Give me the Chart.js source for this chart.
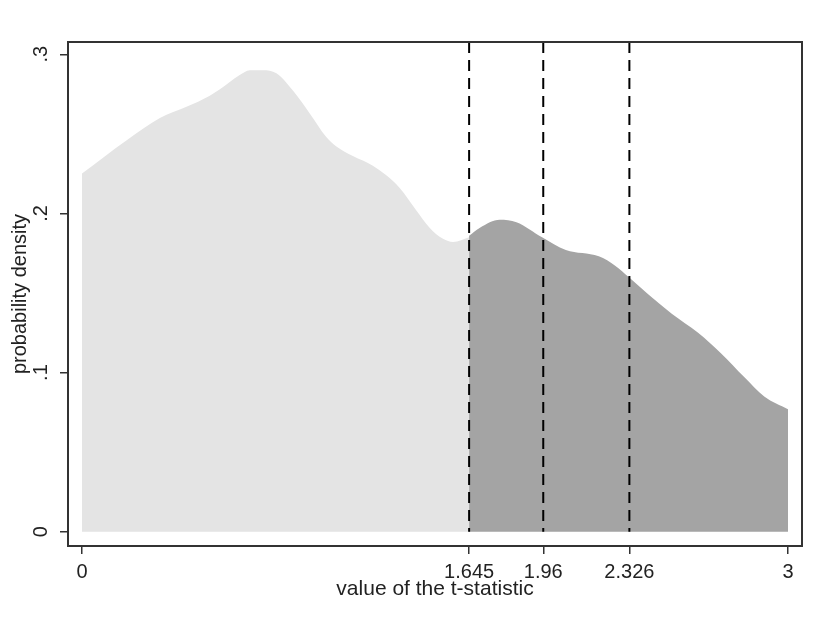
<!DOCTYPE html>
<html>
<head>
<meta charset="utf-8">
<title>t-statistic density</title>
<script src="https://cdn.jsdelivr.net/npm/chart.js@4.4.1/dist/chart.umd.min.js"></script>
<style>
    body { margin: 0; background: #fff; }
    #chart { display: block; }
</style>
</head>
<body>
<canvas id="chart" width="821" height="630"></canvas>
<script>
// density, split at the 1.645 critical value
const leftT = [0, 0.19, 0.331, 0.444, 0.543, 0.586, 0.67, 0.713, 0.77, 0.826, 0.897, 0.967, 1.038, 1.081, 1.151, 1.236, 1.293, 1.35, 1.42, 1.477, 1.534, 1.577, 1.645];
const leftDensity = [0.225, 0.246, 0.260, 0.267, 0.274, 0.278, 0.287, 0.290, 0.290, 0.288, 0.277, 0.263, 0.248, 0.242, 0.236, 0.230, 0.224, 0.216, 0.202, 0.191, 0.184, 0.182, 0.185];

const rightT = [1.645, 1.691, 1.775, 1.846, 1.955, 2.056, 2.196, 2.267, 2.323, 2.407, 2.506, 2.618, 2.716, 2.815, 2.899, 3];
const rightDensity = [0.186, 0.191, 0.196, 0.1945, 0.185, 0.177, 0.173, 0.167, 0.160, 0.149, 0.137, 0.125, 0.112, 0.097, 0.085, 0.077];

const criticalValues = [1.645, 1.96, 2.326];

const xTicks = [0, 1.645, 1.96, 2.326, 3];
const xTickLabels = ["0", "1.645", "1.96", "2.326", "3"];
const yTicks = [0, 0.1, 0.2, 0.3];
const yTickLabels = ["0", ".1", ".2", ".3"];

const xMin = -0.0595, xMax = 3.0595;
const yMin = -0.009, yMax = 0.3077;

const toPoints = (xs, ys) => xs.map((x, i) => ({ x: x, y: ys[i] }));

const areaStyle = {
    fill: "origin",
    borderWidth: 0,
    pointRadius: 0,
    cubicInterpolationMode: "monotone",
    order: 2
};

const datasets = [
    Object.assign({ data: toPoints(leftT, leftDensity), backgroundColor: "#e4e4e4", borderColor: "#e4e4e4" }, areaStyle),
    Object.assign({ data: toPoints(rightT, rightDensity), backgroundColor: "#a4a4a4", borderColor: "#a4a4a4" }, areaStyle)
];

// dashed verticals go on top of the shaded areas
criticalValues.forEach((c) => {
    datasets.push({
        data: [{ x: c, y: yMax }, { x: c, y: 0 }],
        borderColor: "#000",
        borderWidth: 2,
        borderDash: [11, 7],
        pointRadius: 0,
        fill: false,
        order: 0
    });
});

// box round the plot area
const framePlugin = {
    id: "frame",
    afterDraw(chart) {
        const { ctx, chartArea: a } = chart;
        ctx.save();
        ctx.strokeStyle = "#333";
        ctx.lineWidth = 2;
        ctx.strokeRect(a.left, a.top, a.right - a.left, a.bottom - a.top);
        ctx.restore();
    }
};

Chart.defaults.font.family = "'Liberation Sans', Arial, sans-serif";
Chart.defaults.color = "#222";

new Chart(document.getElementById("chart"), {
    type: "line",
    data: { datasets: datasets },
    plugins: [framePlugin],
    options: {
        responsive: false,
        animation: false,
        devicePixelRatio: 1,
        layout: { padding: { top: 42, right: 19, bottom: 0, left: 0 } },
        plugins: {
            legend: { display: false },
            tooltip: { enabled: false }
        },
        scales: {
            x: {
                type: "linear",
                min: xMin,
                max: xMax,
                afterBuildTicks: (scale) => { scale.ticks = xTicks.map((v) => ({ value: v })); },
                afterFit: (scale) => { scale.height = 84; },
                ticks: {
                    autoSkip: false,
                    minRotation: 0,
                    maxRotation: 0,
                    padding: 6,
                    font: { size: 20 },
                    callback: (value, i) => xTickLabels[i]
                },
                grid: { drawOnChartArea: false, drawTicks: true, tickLength: 8, color: "#333", lineWidth: 1.5 },
                border: { display: false },
                title: {
                    display: true,
                    text: "value of the t-statistic",
                    font: { size: 21 },
                    color: "#222",
                    padding: { top: 0, bottom: 28 }
                }
            },
            y: {
                type: "linear",
                min: yMin,
                max: yMax,
                afterBuildTicks: (scale) => { scale.ticks = yTicks.map((v) => ({ value: v })); },
                afterFit: (scale) => { scale.width = 68; },
                ticks: {
                    minRotation: 90,
                    maxRotation: 90,
                    crossAlign: "center",
                    padding: 10,
                    font: { size: 20 },
                    callback: (value, i) => yTickLabels[i]
                },
                grid: { drawOnChartArea: false, drawTicks: true, tickLength: 8, color: "#333", lineWidth: 1.5 },
                border: { display: false },
                title: {
                    display: true,
                    text: "probability density",
                    font: { size: 20 },
                    color: "#222",
                    padding: { top: 8, bottom: 0 }
                }
            }
        }
    }
});
</script>
</body>
</html>
